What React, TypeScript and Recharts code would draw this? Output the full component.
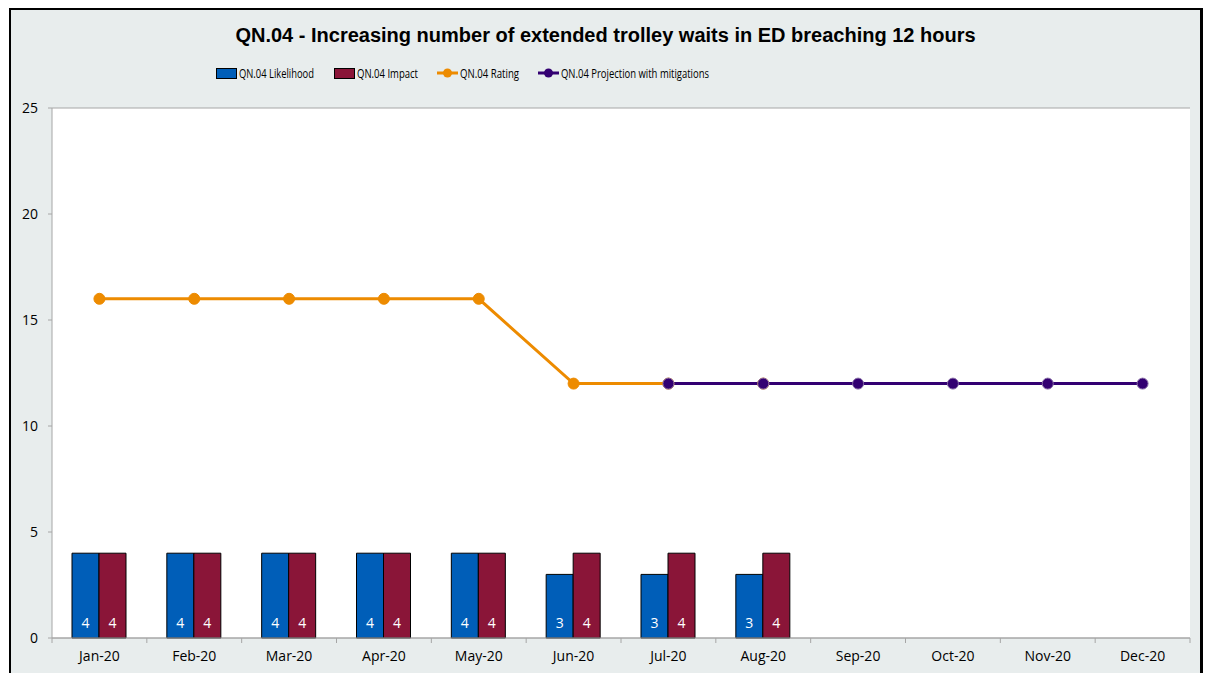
import { ComposedChart, Bar, Line, XAxis, YAxis, CartesianGrid, LabelList } from 'recharts';

const months = ['Jan-20', 'Feb-20', 'Mar-20', 'Apr-20', 'May-20', 'Jun-20', 'Jul-20', 'Aug-20', 'Sep-20', 'Oct-20', 'Nov-20', 'Dec-20'];
const likelihood = [4, 4, 4, 4, 4, 3, 3, 3, null, null, null, null];
const impact = [4, 4, 4, 4, 4, 4, 4, 4, null, null, null, null];
const rating = [16, 16, 16, 16, 16, 12, 12, 12, null, null, null, null];
const projection = [null, null, null, null, null, null, 12, 12, 12, 12, 12, 12];
const yTicks = [0, 5, 10, 15, 20, 25];

const data = months.map((month, i) => ({
  month,
  likelihood: likelihood[i],
  impact: impact[i],
  rating: rating[i],
  projection: projection[i],
}));

const BLUE = '#005EB8';
const MAROON = '#8A1538';
const ORANGE = '#ED8B00';
const PURPLE = '#330072';
const GRID = '#a6a6a6';
const FONT = '"Open Sans", sans-serif';

const W = 1189;
const H = 672;
const M = { top: 98, right: 10, left: 0, bottom: 14 };
const Y_W = 41;
const BAND = (W - Y_W - M.right) / months.length;

// legend entries: swatch x, label width (the legend font is squeezed horizontally)
const legendItems = [
  { kind: 'bar', color: BLUE, label: 'QN.04 Likelihood', x: 0, w: 75 },
  { kind: 'bar', color: MAROON, label: 'QN.04 Impact', x: 118, w: 61 },
  { kind: 'line', color: ORANGE, label: 'QN.04 Rating', x: 221, w: 59 },
  { kind: 'line', color: PURPLE, label: 'QN.04 Projection with mitigations', x: 322, w: 148 },
];

function MonthTick(props: any) {
  const { x, y, payload, index } = props;
  return (
    <g>
      <line x1={x - BAND / 2} x2={x - BAND / 2} y1={y} y2={y + 5} stroke={GRID} />
      {index === months.length - 1 && (
        <line x1={x + BAND / 2} x2={x + BAND / 2} y1={y} y2={y + 5} stroke={GRID} />
      )}
      <text x={x} y={y + 23} textAnchor="middle" fontSize={14} fill="#000" fontFamily={FONT}>
        {payload.value}
      </text>
    </g>
  );
}

function ChartLegend() {
  return (
    <svg width={560} height={22} style={{ position: 'absolute', left: 205, top: 53 }}>
      {legendItems.map((it) => (
        <g key={it.label}>
          {it.kind === 'bar' ? (
            <rect x={it.x + 0.5} y={5.5} width={20} height={10} fill={it.color} stroke="#000" />
          ) : (
            <g>
              <line x1={it.x} x2={it.x + 21} y1={10} y2={10} stroke={it.color} strokeWidth={3} />
              <circle cx={it.x + 10.5} cy={10} r={4.5} fill={it.color} />
            </g>
          )}
          <text
            x={it.x + 23}
            y={14.5}
            fontSize={12.5}
            fontFamily={FONT}
            fill="#000"
            textLength={it.w}
            lengthAdjust="spacingAndGlyphs"
          >
            {it.label}
          </text>
        </g>
      ))}
    </svg>
  );
}

export default function App() {
  return (
    <div style={{ position: 'relative', width: 1203, height: 665 }}>
      <div
        style={{
          position: 'absolute',
          left: 1,
          top: 0,
          width: W,
          height: H,
          background: '#e8eded',
          borderTop: '2px solid #000',
          borderLeft: '2px solid #000',
          borderRight: '11px solid #000',
        }}
      >
        <div
          style={{
            position: 'absolute',
            top: 14,
            left: 0,
            width: W,
            textAlign: 'center',
            fontFamily: '"Liberation Sans", Arial, sans-serif',
            fontWeight: 'bold',
            fontSize: 20,
          }}
        >
          QN.04 - Increasing number of extended trolley waits in ED breaching 12 hours
        </div>
        <ChartLegend />
        <ComposedChart width={W} height={H} data={data} margin={M} barGap={0}>
          <CartesianGrid vertical={false} stroke={GRID} fill="#fff" />
          <XAxis
            dataKey="month"
            tick={<MonthTick />}
            tickLine={false}
            tickSize={0}
            tickMargin={0}
            height={30}
            interval={0}
            stroke={GRID}
          />
          <YAxis
            yAxisId="left"
            domain={[0, 25]}
            ticks={yTicks}
            width={Y_W}
            tickSize={4}
            tickMargin={10}
            stroke={GRID}
            tick={{ fill: '#000', fontSize: 14, fontFamily: FONT }}
          />
          <YAxis yAxisId="right" orientation="right" domain={[0, 25]} width={0} tick={false} tickLine={false} stroke={GRID} />
          <Bar yAxisId="left" dataKey="likelihood" fill={BLUE} stroke="#000" strokeWidth={1} barSize={27} isAnimationActive={false}>
            <LabelList dataKey="likelihood" position="insideBottom" offset={10} fill="#fff" fontSize={14} fontFamily={FONT} />
          </Bar>
          <Bar yAxisId="left" dataKey="impact" fill={MAROON} stroke="#000" strokeWidth={1} barSize={27} isAnimationActive={false}>
            <LabelList dataKey="impact" position="insideBottom" offset={10} fill="#fff" fontSize={14} fontFamily={FONT} />
          </Bar>
          <Line
            yAxisId="left"
            dataKey="rating"
            stroke={ORANGE}
            strokeWidth={3}
            dot={{ r: 5.5, fill: ORANGE, stroke: ORANGE, strokeWidth: 1 }}
            type="linear"
            isAnimationActive={false}
          />
          <Line
            yAxisId="left"
            dataKey="projection"
            stroke={PURPLE}
            strokeWidth={3}
            dot={{ r: 5.5, fill: PURPLE, stroke: '#8a6fa8', strokeWidth: 1 }}
            type="linear"
            isAnimationActive={false}
          />
        </ComposedChart>
      </div>
    </div>
  );
}
